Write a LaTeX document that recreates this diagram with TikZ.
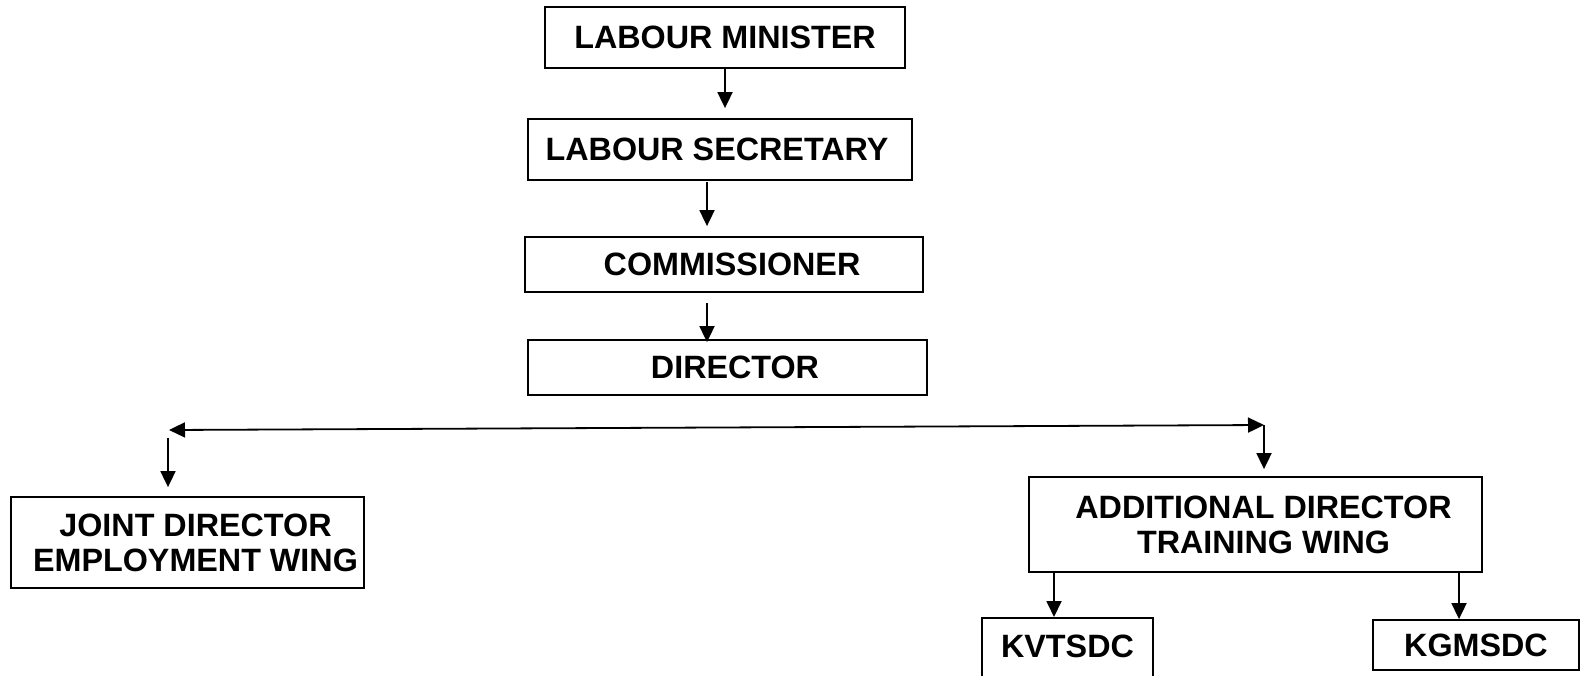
\documentclass[tikz,border=0pt]{standalone}
\usepackage{fontspec}
\setmainfont{Liberation Sans}
\usetikzlibrary{arrows.meta}
\begin{document}
\begin{tikzpicture}[x=1pt,y=-1pt,
  box/.style={draw, line width=1.8pt, inner sep=0pt, align=center,
    font=\fontsize{32.3}{35}\selectfont\bfseries},
  arr/.style={line width=1.8pt, -{Triangle[length=16pt,width=15pt]}},
  darr/.style={line width=1.8pt, {Triangle[length=16pt,width=15pt]}-{Triangle[length=16pt,width=15pt]}}]
\useasboundingbox (0,0) rectangle (1585,675);
\clip (0,0) rectangle (1585,675);
\node[box, minimum width=360pt, minimum height=61pt] (lm) at (725,37.5) {LABOUR MINISTER};
\node[box, minimum width=384pt, minimum height=61pt] (ls) at (720,149.5) {LABOUR SECRETARY\hspace*{6pt}};
\node[box, minimum width=398pt, minimum height=55pt] (com) at (724,264.5) {\hspace*{16pt}COMMISSIONER};
\node[box, minimum width=399pt, minimum height=55pt] (dir) at (727.5,367.5) {\hspace*{15pt}DIRECTOR};
\node[box, minimum width=353pt, minimum height=91pt] (jd) at (187.5,542.5) {\hspace*{16pt}JOINT DIRECTOR\\\hspace*{16pt}EMPLOYMENT WING};
\node[box, minimum width=453pt, minimum height=95pt] (ad) at (1255.5,524.5) {\hspace*{16pt}ADDITIONAL DIRECTOR\\\hspace*{16pt}TRAINING WING};
\node[box, minimum width=171pt, text height=39.6pt, text depth=43.4pt, anchor=north] (kv) at (1067.5,617) {KVTSDC};
\node[box, minimum width=206pt, minimum height=50pt] (kg) at (1476,645) {KGMSDC};
% connectors
\draw[arr] (lm.south) -- ([yshift=10pt]lm.south |- ls.north);
\coordinate (c1) at (707,182);
\draw[arr] (c1) -- ([yshift=10pt]c1 |- com.north);
\coordinate (c2) at (707,303);
\draw[arr] (c2) -- ([yshift=-3pt]c2 |- dir.north);
\coordinate (hl) at (169,430);
\coordinate (hr) at (1264,425);
\draw[darr] (hl) -- (hr);
\coordinate (jl) at (168,438);
\draw[arr] (jl) -- ([yshift=9pt]jl |- jd.north);
\draw[arr] (hr) -- ([yshift=7pt]hr |- ad.north);
\coordinate (k1) at (1054,572);
\draw[arr] (k1 |- ad.south) -- (k1 |- kv.north);
\coordinate (k2) at (1459,572);
\draw[arr] (k2 |- ad.south) -- (k2 |- kg.north);
\end{tikzpicture}
\end{document}
